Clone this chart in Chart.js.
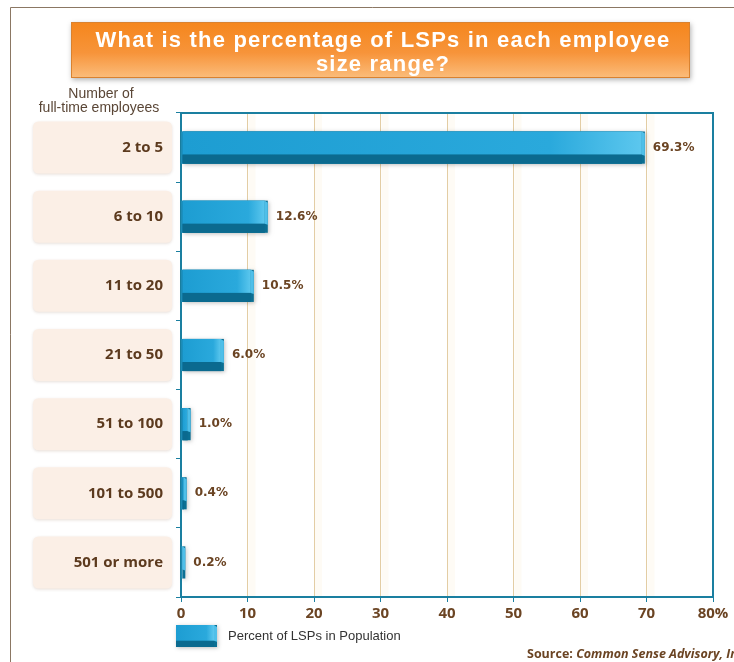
<!DOCTYPE html>
<html lang="en">
<head>
  <meta charset="UTF-8">
  <title>LSPs by employee size range</title>
  <style>
    html, body { margin: 0; padding: 0; background: #ffffff; }
    #lspChart { display: block; }
  </style>
</head>
<body>
  <canvas id="lspChart" width="734" height="662"></canvas>

  <script src="https://cdn.jsdelivr.net/npm/chart.js"></script>
  <script>
    const titleLines = ['What is the percentage of LSPs in each employee', 'size range?'];
    const axisCaption = ['Number of', 'full-time employees'];
    const employeeRanges = ['2 to 5', '6 to 10', '11 to 20', '21 to 50', '51 to 100', '101 to 500', '501 or more'];
    const lspShare = [69.3, 12.6, 10.5, 6.0, 1.0, 0.4, 0.2];
    const shareLabels = ['69.3%', '12.6%', '10.5%', '6.0%', '1.0%', '0.4%', '0.2%'];
    const xTicks = [0, 10, 20, 30, 40, 50, 60, 70, 80];
    const seriesName = 'Percent of LSPs in Population';
    const sourceNote = ['Source: ', 'Common Sense Advisory, Inc.'];

    const TEAL = '#1a7fa0';
    const BROWN = '#6b4423';

    function roundRect(ctx, x, y, w, h, r) {
      ctx.beginPath();
      ctx.moveTo(x + r, y);
      ctx.lineTo(x + w - r, y);
      ctx.quadraticCurveTo(x + w, y, x + w, y + r);
      ctx.lineTo(x + w, y + h - r);
      ctx.quadraticCurveTo(x + w, y + h, x + w - r, y + h);
      ctx.lineTo(x + r, y + h);
      ctx.quadraticCurveTo(x, y + h, x, y + h - r);
      ctx.lineTo(x, y + r);
      ctx.quadraticCurveTo(x, y, x + r, y);
      ctx.closePath();
    }

    // paints a bar with a darker underside and a lit end cap
    function bar3d(ctx, left, right, top, bottom) {
      const h = bottom - top;
      const split = top + h * 0.72;
      const g = ctx.createLinearGradient(left, 0, Math.max(right, left + 1), 0);
      g.addColorStop(0, '#1d9dd2');
      g.addColorStop(0.8, '#2aa9dc');
      g.addColorStop(1, '#5cc7ee');
      ctx.save();
      ctx.shadowColor = 'rgba(0,0,0,0.25)';
      ctx.shadowBlur = 4;
      ctx.shadowOffsetX = 1;
      ctx.shadowOffsetY = 1;
      ctx.fillStyle = '#0b6f93';
      ctx.fillRect(left, top, right - left + 3, h);
      ctx.restore();
      ctx.fillStyle = g;
      ctx.fillRect(left, top, right - left, split - top);
      // end cap
      ctx.fillStyle = '#4fbfe9';
      ctx.beginPath();
      ctx.moveTo(right, top);
      ctx.lineTo(right + 3, top + 2);
      ctx.lineTo(right + 3, split + 1);
      ctx.lineTo(right, split);
      ctx.closePath();
      ctx.fill();
      ctx.fillStyle = '#0b6a8f';
      ctx.fillRect(left, split, right - left, bottom - split);
    }

    const decorations = {
      id: 'decorations',
      beforeDraw(chart) {
        const ctx = chart.ctx;
        const area = chart.chartArea;
        const yScale = chart.scales.y;
        const xScale = chart.scales.x;
        ctx.save();
        ctx.fillStyle = '#ffffff';
        ctx.fillRect(0, 0, chart.width, chart.height);

        // outer frame (top and left edges)
        ctx.strokeStyle = '#8b7763';
        ctx.lineWidth = 1;
        ctx.beginPath();
        ctx.moveTo(10.5, chart.height);
        ctx.lineTo(10.5, 7.5);
        ctx.lineTo(chart.width, 7.5);
        ctx.stroke();

        // title banner
        ctx.save();
        ctx.shadowColor = 'rgba(0,0,0,0.3)';
        ctx.shadowBlur = 5;
        ctx.shadowOffsetX = 1;
        ctx.shadowOffsetY = 2;
        const tg = ctx.createLinearGradient(0, 22, 0, 78);
        tg.addColorStop(0, '#f5861c');
        tg.addColorStop(0.55, '#f7943a');
        tg.addColorStop(1, '#fbbd7c');
        ctx.fillStyle = tg;
        ctx.fillRect(71, 22, 619, 56);
        ctx.restore();
        ctx.strokeStyle = '#d98230';
        ctx.strokeRect(71.5, 22.5, 618, 55);
        ctx.save();
        ctx.fillStyle = '#ffffff';
        ctx.font = 'bold 22px "Liberation Sans", Arial, sans-serif';
        ctx.letterSpacing = '1.2px';
        ctx.textAlign = 'center';
        ctx.textBaseline = 'middle';
        ctx.fillText(titleLines[0], 383, 41);
        ctx.fillText(titleLines[1], 383, 65);
        ctx.restore();

        // caption over the category column
        ctx.fillStyle = '#5a4636';
        ctx.font = '14px "Liberation Sans", Arial, sans-serif';
        ctx.textAlign = 'center';
        ctx.textBaseline = 'middle';
        ctx.fillText(axisCaption[0], 101, 94);
        ctx.fillText(axisCaption[1], 99, 108);

        // light bands beside each grid line
        ctx.fillStyle = '#fefbf5';
        xTicks.slice(1, -1).forEach(v => {
          const px = xScale.getPixelForValue(v);
          ctx.fillRect(px + 1, area.top, 7, area.bottom - area.top);
        });

        // category label boxes
        employeeRanges.forEach((name, i) => {
          const cy = yScale.getPixelForValue(i);
          ctx.save();
          ctx.shadowColor = 'rgba(120,80,50,0.18)';
          ctx.shadowBlur = 3;
          ctx.shadowOffsetY = 1;
          ctx.fillStyle = '#fbefe6';
          roundRect(ctx, 33, cy - 26, 139, 52, 6);
          ctx.fill();
          ctx.restore();
          ctx.fillStyle = '#5c3a1e';
          ctx.font = 'bold 15px "Open Sans", sans-serif';
          ctx.textAlign = 'right';
          ctx.fillText(name, 163, cy);
        });
        ctx.restore();
      },
      afterDatasetsDraw(chart) {
        const ctx = chart.ctx;
        const area = chart.chartArea;
        const meta = chart.getDatasetMeta(0);
        ctx.save();
        meta.data.forEach((el, i) => {
          const p = el.getProps(['x', 'y', 'base', 'height'], true);
          bar3d(ctx, p.base + 1, p.x, p.y - p.height / 2, p.y + p.height / 2);
          ctx.fillStyle = BROWN;
          ctx.font = 'bold 12px "DejaVu Sans", Verdana, sans-serif';
          ctx.textAlign = 'left';
          ctx.textBaseline = 'middle';
          ctx.fillText(shareLabels[i], p.x + 11, p.y);
        });
        // frame around the plot
        ctx.strokeStyle = TEAL;
        ctx.lineWidth = 2;
        ctx.beginPath();
        ctx.moveTo(area.left, area.top);
        ctx.lineTo(area.right, area.top);
        ctx.lineTo(area.right, area.bottom);
        ctx.stroke();
        ctx.restore();
      },
      afterDraw(chart) {
        const ctx = chart.ctx;
        ctx.save();
        // legend
        bar3d(ctx, 176, 214, 625, 647);
        ctx.fillStyle = '#333333';
        ctx.font = '13px "Liberation Sans", Arial, sans-serif';
        ctx.textAlign = 'left';
        ctx.textBaseline = 'middle';
        ctx.fillText(seriesName, 228, 636);
        // source
        ctx.fillStyle = BROWN;
        ctx.font = 'bold 12.5px "Open Sans", sans-serif';
        ctx.fillText(sourceNote[0], 527, 654);
        const w = ctx.measureText(sourceNote[0]).width;
        ctx.font = 'italic bold 12.5px "Open Sans", sans-serif';
        ctx.fillText(sourceNote[1], 527 + w, 654);
        ctx.restore();
      }
    };

    new Chart(document.getElementById('lspChart'), {
      type: 'bar',
      data: {
        labels: employeeRanges,
        datasets: [{
          label: seriesName,
          data: lspShare,
          backgroundColor: '#22a2d6',
          barPercentage: 0.62,
          categoryPercentage: 0.75
        }]
      },
      options: {
        indexAxis: 'y',
        responsive: false,
        animation: false,
        layout: { padding: { left: 171, top: 113, right: 21, bottom: 5 } },
        plugins: {
          legend: { display: false },
          tooltip: { enabled: false },
          title: { display: false }
        },
        scales: {
          x: {
            min: 0,
            max: 80,
            afterFit: s => { s.height = 60; },
            afterBuildTicks: s => { s.ticks = xTicks.map(v => ({ value: v })); },
            ticks: {
              callback: v => (v === 80 ? '80%' : v),
              color: BROWN,
              font: { family: 'Open Sans', weight: 'bold', size: 15 },
              padding: 3,
              maxRotation: 0
            },
            grid: { color: '#e3cda4', lineWidth: 1, tickColor: TEAL, tickLength: 5 },
            border: { color: TEAL, width: 2 }
          },
          y: {
            afterFit: s => { s.width = 10; },
            ticks: { display: false },
            grid: { drawOnChartArea: false, tickColor: TEAL, tickLength: 5, offset: true },
            border: { color: TEAL, width: 2 }
          }
        }
      },
      plugins: [decorations]
    });
  </script>
</body>
</html>
